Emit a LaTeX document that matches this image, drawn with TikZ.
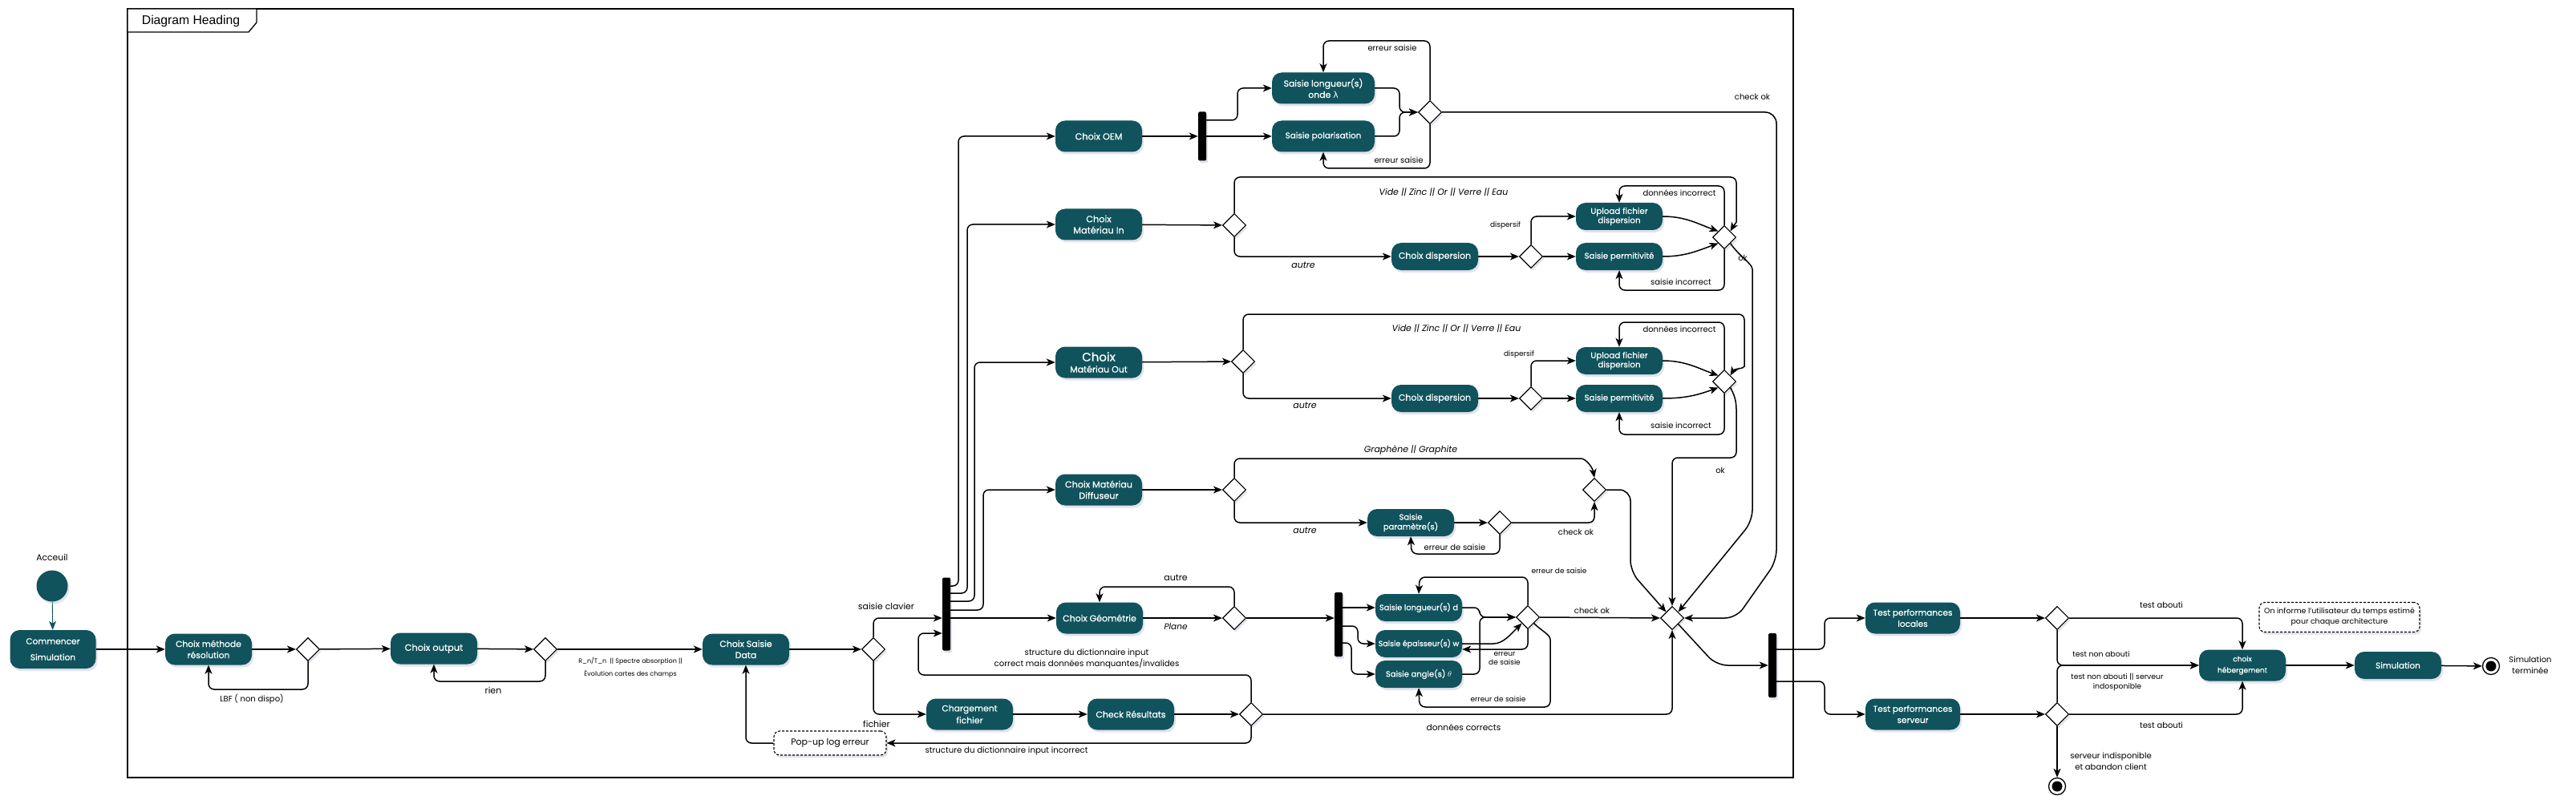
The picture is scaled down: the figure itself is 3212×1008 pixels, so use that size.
\documentclass[tikz,border=0pt]{standalone}
\usepackage{fontspec}
\setmainfont{Poppins}
\newfontfamily\actfont{Poppins}[FakeBold=0.6]
\newfontfamily\headfont{Liberation Sans}
\newfontfamily\symfont{DejaVu Sans}
\usetikzlibrary{arrows.meta,shapes.geometric,shadows}
\definecolor{actfill}{HTML}{10535C}
\definecolor{shadowc}{HTML}{C4C7DA}
\begin{document}
\begin{tikzpicture}[x=1pt,y=-1pt,
act/.style={rectangle, rounded corners=12pt, fill=actfill, text=white, align=center, font=\actfont\fontsize{11}{14}\selectfont, minimum width=108pt, minimum height=39pt, inner sep=1pt, drop shadow={shadow xshift=2pt, shadow yshift=-3pt, fill=shadowc}},
sact/.style={act, minimum height=34pt, font=\actfont\fontsize{10}{12}\selectfont},
dec/.style={diamond, draw, fill=white, line width=1.1pt, minimum width=29pt, minimum height=29pt, inner sep=0pt, drop shadow={shadow xshift=2pt, shadow yshift=-3pt, fill=shadowc}},
bar/.style={rectangle, fill=black, minimum width=10pt, inner sep=0pt, rounded corners=1.5pt, drop shadow={shadow xshift=2pt, shadow yshift=-3pt, fill=shadowc}},
init/.style={circle, fill=actfill, minimum size=39pt, inner sep=0pt, drop shadow={shadow xshift=2pt, shadow yshift=-3pt, fill=shadowc}},
fin/.style={circle, draw, line width=1.3pt, fill=white, minimum size=21pt, inner sep=0pt, label={[circle, fill=black, minimum size=13pt, inner sep=0pt]center:{}}},
note/.style={rectangle, draw, dash pattern=on 3pt off 2pt, line width=1.1pt, rounded corners=7pt, fill=white, align=center, inner sep=1pt, drop shadow={shadow xshift=2pt, shadow yshift=-3pt, fill=shadowc}},
flow/.style={line width=1.5pt, rounded corners=7pt, -{Stealth[length=11pt,width=9pt,inset=3pt]}},
lbl/.style={font=\fontsize{10}{13}\selectfont, inner sep=0pt, align=center},
slbl/.style={font=\fontsize{9}{11}\selectfont, inner sep=0pt, align=center},
tlbl/.style={font=\fontsize{8}{10}\selectfont, inner sep=0pt, align=center},
ilbl/.style={font=\fontsize{11}{13}\selectfont\itshape, inner sep=0pt}]
\useasboundingbox (0,0) rectangle (3212,1008);
\draw[line width=1.3pt] (159,11) rectangle (2236,970);
\draw[line width=1.3pt, fill=white] (159,11) -- (320,11) -- (320,28) -- (310,40) -- (159,40) -- cycle;
\node[font=\fontsize{15.7}{18}\headfont] (head) at (238,26){Diagram Heading};
\node[lbl, font=\fontsize{10.8}{13}\selectfont] (lacc) at (65,695){Acceuil};
\node[init] (start) at (65,731){};
\node[act, minimum width=107pt, minimum height=48pt, font=\actfont\fontsize{10.6}{14}\selectfont] (cs) at (66,810){Commencer\\[6pt]Simulation};
\node[act, font=\actfont\fontsize{10.7}{14}\selectfont] (cmr) at (260,810){Choix méthode\\résolution};
\node[dec] (d1) at (384,810){};
\node[act, font=\actfont\fontsize{11.4}{14}\selectfont] (cout) at (541,809){Choix output};
\node[dec] (d2) at (680,810){};
\node[act] (csd) at (930,810){Choix Saisie\\Data};
\node[dec] (d3) at (1089,810){};
\node[note, minimum width=140pt, minimum height=30pt, font=\fontsize{11}{13}\selectfont] (pop) at (1035,927){Pop-up log erreur};
\node[bar, minimum height=91pt] (b1) at (1180,766){};
\node[act, font=\actfont\fontsize{10.8}{15}\selectfont] (cf) at (1209,891){Chargement\\fichier};
\node[act, font=\actfont\fontsize{10.9}{14}\selectfont] (cr) at (1410,891){Check Résultats};
\node[dec] (d4) at (1560,891){};
\node[act, font=\actfont\fontsize{11.3}{14}\selectfont] (coem) at (1370,170){Choix OEM};
\node[bar, minimum height=61pt] (b4) at (1499,170){};
\node[act, minimum width=128pt, font=\actfont\fontsize{10.9}{14}\selectfont] (slo) at (1650,110){Saisie longueur(s)\\onde {\symfont λ}};
\node[act, minimum width=128pt, font=\actfont\fontsize{10.4}{14}\selectfont] (spol) at (1650,170){Saisie polarisation};
\node[dec] (d7) at (1783,140){};
\node[act, font=\actfont\fontsize{11.3}{14}\selectfont] (cmi) at (1370,280){Choix\\Matériau In};
\node[dec] (d8) at (1539,281){};
\node[sact, font=\actfont\fontsize{11}{14}\selectfont] (cd1) at (1789,320){Choix dispersion};
\node[dec] (d10) at (1909,320){};
\node[sact, font=\actfont\fontsize{10.3}{10}\selectfont] (uf1) at (2019,270){Upload fichier\\dispersion};
\node[sact, font=\actfont\fontsize{10.2}{12}\selectfont] (sp1) at (2019,320){Saisie permitivité};
\node[dec] (d9) at (2150,296){};
\node[act] (cmo) at (1370,452){{\fontsize{15}{15}\selectfont Choix}\\Matériau Out};
\node[dec] (d12) at (1550,451){};
\node[sact, font=\actfont\fontsize{11}{14}\selectfont] (cd2) at (1789,497){Choix dispersion};
\node[dec] (d13) at (1909,497){};
\node[sact, font=\actfont\fontsize{10.3}{10}\selectfont] (uf2) at (2019,450){Upload fichier\\dispersion};
\node[sact, font=\actfont\fontsize{10.2}{12}\selectfont] (sp2) at (2019,497){Saisie permitivité};
\node[dec] (d11) at (2150,476){};
\node[act, font=\actfont\fontsize{11.2}{14}\selectfont] (cmd) at (1370,611){Choix Matériau\\Diffuseur};
\node[dec] (d14) at (1539,611){};
\node[sact, font=\actfont\fontsize{10}{12}\selectfont] (spar) at (1759,652){Saisie\\paramètre(s)};
\node[dec] (d16) at (1870,652){};
\node[dec] (d15) at (1988,611){};
\node[act] (cg) at (1371,771){Choix Géométrie};
\node[dec] (d5) at (1539,771){};
\node[bar, minimum height=80pt] (b2) at (1669,779){};
\node[sact, font=\actfont\fontsize{9.8}{12}\selectfont] (sld) at (1769,758){Saisie longueur(s) d};
\node[sact, font=\actfont\fontsize{9.5}{12}\selectfont] (sew) at (1769,803){Saisie épaisseur(s) w};
\node[sact] (sat) at (1769,841){Saisie angle(s) $\theta$};
\node[dec] (d6) at (1905,770){};
\node[dec] (dj) at (2085,771){};
\node[bar, minimum height=80pt] (b3) at (2210,830){};
\node[act, minimum width=118pt, font=\actfont\fontsize{10.5}{14}\selectfont] (tpl) at (2385,771){Test performances\\locales};
\node[act, minimum width=118pt, font=\actfont\fontsize{10.5}{14}\selectfont] (tps) at (2385,891){Test performances\\serveur};
\node[dec] (dl) at (2565,771){};
\node[dec] (ds) at (2565,891){};
\node[act, font=\actfont\fontsize{9}{14}\selectfont] (ch) at (2796,830){choix\\hébergement};
\node[note, minimum width=200pt, minimum height=37pt, font=\fontsize{9.4}{13}\selectfont] (inf) at (2917,770){On informe l'utilisateur du temps estimé\\pour chaque architecture};
\node[sact, font=\actfont\fontsize{10.5}{12}\selectfont] (sim) at (2990,830){Simulation};
\node[fin] (f1) at (2565,981){};
\node[fin] (f2) at (3106,831){};
\node[lbl, font=\fontsize{10}{14}\selectfont] (lterm) at (3155,830){Simulation\\terminée};
\draw[flow, line width=0.9pt, actfill](start) -- (cs);
\draw[flow](cs) -- (cmr);
\draw[flow](cmr) -- (d1);
\draw[flow](d1) -- (cout);
\draw[flow](d1.south) |- (260,860) -- (cmr.south);
\node[lbl] (llbf) at (314,872){LBF ( non dispo)};
\draw[flow](cout) -- (d2);
\draw[flow](d2.south) |- (541,850) -- (cout.south);
\node[lbl, font=\fontsize{11}{13}\selectfont] (lrien) at (615,861){rien};
\draw[flow](d2) -- (csd);
\node[tlbl] (lout) at (786,833){R\_n/T\_n~ || Spectre absorption ||\\[6pt]Évolution cartes des champs};
\draw[flow](csd) -- (d3);
\draw[flow](d3.north) |- ([yshift=-5pt]b1.west);
\node[lbl, font=\fontsize{10.9}{13}\selectfont] (lclav) at (1105,756){saisie clavier};
\draw[flow](d3.south) |- (cf.west);
\node[lbl, font=\fontsize{11}{13}\selectfont] (lfich) at (1093,903){fichier};
\draw[flow](cf) -- (cr);
\draw[flow](cr) -- (d4);
\draw[flow](d4.north) |- (1145,842) |- ([yshift=-24pt]b1.west);
\node[lbl, font=\fontsize{10.2}{14}\selectfont] (lstr) at (1355,822){structure du dictionnaire input\\correct mais données manquantes/invalides};
\draw[flow](d4.south) |- (pop.east);
\node[lbl, font=\fontsize{10.2}{13}\selectfont] (linc) at (1255,937){structure du dictionnaire input incorrect};
\draw[flow](pop.west) -| (csd.south);
\draw[flow](d4.east) -| (dj.south);
\node[lbl, font=\fontsize{10.6}{13}\selectfont] (lcor) at (1825,907){données corrects};
\draw[flow]([yshift=35pt]b1.east) -| (1195,170) -- (coem.west);
\draw[flow]([yshift=26pt]b1.east) -| (1206,280) -- (cmi.west);
\draw[flow]([yshift=16pt]b1.east) -| (1215,452) -- (cmo.west);
\draw[flow]([yshift=5pt]b1.east) -| (1226,611) -- (cmd.west);
\draw[flow]([yshift=-5pt]b1.east) -- (cg.west);
\draw[flow](cg) -- (d5);
\node[ilbl, font=\fontsize{10.5}{13}\selectfont\itshape] (lpla) at (1466,782){Plane};
\draw[flow](d5.north) |- (1371,732) -- (cg.north);
\node[lbl, font=\fontsize{11}{13}\selectfont] (laut) at (1466,721){autre};
\draw[flow](d5.east) -- (d5.east -| b2.west);
\draw[flow](b2.east |- sld.west) -- (sld.west);
\draw[flow]([yshift=-2pt]b2.east) -- (1693,781) |- (sew.west);
\draw[flow]([yshift=-23pt]b2.east) -- (1685,802) |- (sat.west);
\draw[flow](sld.east) -| (1845,770) -- (d6.west);
\draw[flow](sat.east) -| (1845,770) -- (d6.west);
\draw[flow](sew.east) -- (1855,803) to[out=0,in=225] (d6.south west);
\draw[flow](d6.north) |- (1770,720) -- (sld.north);
\node[slbl] (lerr1) at (1944,712){erreur de saisie};
\draw[flow](d6.south) |- ([yshift=-7pt]sew.east);
\node[slbl] (lerr2) at (1876,822){erreur\\de saisie};
\draw[flow](d6.south east) to[out=-45,in=90] (1933,805) |- (1770,882) -- (sat.south);
\node[slbl] (lerr3) at (1868,872){erreur de saisie};
\draw[flow](d6.east) -- (dj.west);
\node[lbl] (lchk1) at (1985,762){check ok};
\draw[flow](coem) -- (b4);
\draw[flow]([yshift=20pt]b4.east) -| (1543,110) -- (slo.west);
\draw[flow](b4.east) -- (spol.west);
\draw[flow](slo.east) -| (1745,140) -- (d7.west);
\draw[flow](spol.east) -| (1745,140) -- (d7.west);
\draw[flow](d7.north) |- (1650,51) -- (slo.north);
\node[lbl] (lerr4) at (1736,60){erreur saisie};
\draw[flow](d7.south) |- (1650,210) -- (spol.south);
\node[lbl] (lerr5) at (1744,200){erreur saisie};
\draw[flow, rounded corners=14pt](d7.east) -| (2215,700) -- (2165,771) -- (dj.east);
\node[lbl] (lchk2) at (2185,121){check ok};
\draw[flow](cmi) -- (d8);
\draw[flow](d8.north) |- (2165,221) -- (2165,270) to[out=-90,in=60] (d9.north east);
\node[ilbl] (lmat1) at (1800,240){Vide || Zinc || Or || Verre || Eau};
\draw[flow](d8.south) |- (cd1.west);
\node[ilbl] (laut1) at (1625,331){autre};
\draw[flow](cd1) -- (d10);
\draw[flow](d10) -- (sp1);
\draw[flow](d10.north) |- (uf1.west);
\node[slbl] (ldis1) at (1877,281){dispersif};
\draw[flow](uf1.east) to[out=0,in=160] (d9.north west);
\draw[flow](sp1.east) to[out=0,in=200] (d9.south west);
\draw[flow](d9.north) |- (2019,232) -- (uf1.north);
\node[lbl] (ldon1) at (2094,241){données incorrect};
\draw[flow](d9.south) |- (2019,362) -- (sp1.south);
\node[lbl] (lsai1) at (2096,352){saisie incorrect};
\draw[flow, rounded corners=14pt](d9.south east) to[out=-55,in=90] (2185,350) -- (2185,650) -- (dj.north east);
\node[lbl] (lok1) at (2173,322){ok};
\draw[flow](cmo) -- (d12);
\draw[flow](d12.north) |- (2175,392) -- (2175,450) to[out=-90,in=60] (d11.north east);
\node[ilbl] (lmat2) at (1816,410){Vide || Zinc || Or || Verre || Eau};
\draw[flow](d12.south) |- (cd2.west);
\node[ilbl] (laut2) at (1627,506){autre};
\draw[flow](cd2) -- (d13);
\draw[flow](d13) -- (sp2);
\draw[flow](d13.north) |- (uf2.west);
\node[slbl] (ldis2) at (1894,442){dispersif};
\draw[flow](uf2.east) to[out=0,in=160] (d11.north west);
\draw[flow](sp2.east) to[out=0,in=200] (d11.south west);
\draw[flow](d11.north) |- (2019,402) -- (uf2.north);
\node[lbl] (ldon2) at (2094,411){données incorrect};
\draw[flow](d11.south) |- (2019,542) -- (sp2.south);
\node[lbl] (lsai2) at (2096,531){saisie incorrect};
\draw[flow](d11.south east) to[out=-60,in=90] (2165,520) -- (2165,571) -| (dj.north);
\node[lbl] (lok2) at (2145,587){ok};
\draw[flow](cmd) -- (d14);
\draw[flow](d14.north) |- (1964,572) to[out=0,in=100] (d15.north);
\node[ilbl] (lgra) at (1759,562){Graphène || Graphite};
\draw[flow](d14.south) |- (spar.west);
\node[ilbl] (laut3) at (1627,662){autre};
\draw[flow](spar) -- (d16);
\draw[flow](d16.east) -| (d15.south);
\node[lbl] (lchk3) at (1965,664){check ok};
\draw[flow](d16.south) |- (1760,691) -- (spar.south);
\node[lbl] (lerr6) at (1814,683){erreur de saisie};
\draw[flow, rounded corners=14pt](d15.east) -| (2033,713) -- (dj.north west);
\draw[flow, rounded corners=14pt](dj.south east) -- (2140,830) -- (b3.west);
\draw[flow]([yshift=20pt]b3.east) -| (2275,771) -- (tpl.west);
\draw[flow]([yshift=-20pt]b3.east) -| (2275,891) -- (tps.west);
\draw[flow](tpl) -- (dl);
\draw[flow](tps) -- (ds);
\draw[flow](dl.east) -| (ch.north);
\node[lbl] (lab1) at (2695,755){test abouti};
\draw[flow](ds.east) -| (ch.south);
\node[lbl] (lab2) at (2695,905){test abouti};
\draw[flow](dl.south) |- (ch.west);
\node[slbl, font=\fontsize{9.4}{11}\selectfont] (lnab1) at (2620,816){test non abouti};
\draw[flow](ds.north) |- (ch.west);
\node[slbl, font=\fontsize{9.3}{12}\selectfont] (lnab2) at (2640,851){test non abouti || serveur\\indosponible};
\draw[flow](ds.south) -- (f1.north);
\node[lbl, font=\fontsize{10.1}{14}\selectfont] (lind) at (2632,950){serveur indisponible\\et abandon client};
\draw[flow](ch) -- (sim);
\draw[flow](sim) -- (f2);
\end{tikzpicture}
\end{document}
